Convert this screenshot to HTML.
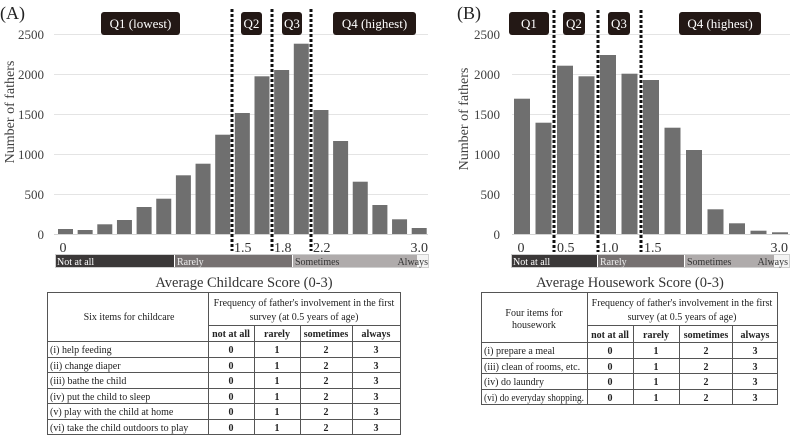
<!DOCTYPE html>
<html><head><meta charset="utf-8"><style>
html,body{margin:0;padding:0;background:#fff;}
svg{display:block;}
text{font-family:"Liberation Serif",serif;}
</style></head><body>
<svg width="792" height="441" viewBox="0 0 792 441" xmlns="http://www.w3.org/2000/svg">
<rect width="792" height="441" fill="#fff"/>

<!-- ================= PANEL A ================= -->
<text x="0" y="19" font-size="18" fill="#222">(A)</text>
<g stroke="#e4e4e4" stroke-width="1">
<line x1="54" y1="34.5" x2="428" y2="34.5"/>
<line x1="54" y1="74.5" x2="428" y2="74.5"/>
<line x1="54" y1="114.5" x2="428" y2="114.5"/>
<line x1="54" y1="154.5" x2="428" y2="154.5"/>
<line x1="54" y1="194.5" x2="428" y2="194.5"/>
</g>
<line x1="54" y1="234.5" x2="428" y2="234.5" stroke="#d4d4d4"/>
<g font-size="13" fill="#404040" text-anchor="end">
<text x="44" y="39">2500</text>
<text x="44" y="79">2000</text>
<text x="44" y="119">1500</text>
<text x="44" y="159">1000</text>
<text x="44" y="199">500</text>
<text x="44" y="239">0</text>
</g>
<text transform="translate(14,112) rotate(-90)" font-size="14" fill="#404040" text-anchor="middle">Number of fathers</text>
<g fill="#6f6f6f">
<rect x="58" y="229" width="15" height="5"/>
<rect x="77.65" y="230" width="15" height="4"/>
<rect x="97.3" y="224.3" width="15" height="9.7"/>
<rect x="116.95" y="220" width="15" height="14"/>
<rect x="136.6" y="207" width="15" height="27"/>
<rect x="156.25" y="198.7" width="15" height="35.3"/>
<rect x="175.9" y="175.3" width="15" height="58.7"/>
<rect x="195.55" y="163.7" width="15" height="70.3"/>
<rect x="215.2" y="134.7" width="15" height="99.3"/>
<rect x="234.85" y="113" width="15" height="121"/>
<rect x="254.5" y="76.3" width="15" height="157.7"/>
<rect x="274.15" y="70" width="15" height="164"/>
<rect x="293.8" y="43.7" width="15" height="190.3"/>
<rect x="313.45" y="110" width="15" height="124"/>
<rect x="333.1" y="141" width="15" height="93"/>
<rect x="352.75" y="181.7" width="15" height="52.3"/>
<rect x="372.4" y="205" width="15" height="29"/>
<rect x="392.05" y="219.3" width="15" height="14.7"/>
<rect x="411.7" y="228" width="15" height="6"/>
</g>
<g stroke="#111" stroke-width="3" stroke-dasharray="3 2" stroke-linecap="butt">
<line x1="232" y1="9" x2="232" y2="251"/>
<line x1="272" y1="9" x2="272" y2="251"/>
<line x1="311" y1="9" x2="311" y2="251"/>
</g>
<g fill="#231815">
<rect x="101" y="12" width="79" height="23" rx="3"/>
<rect x="241" y="12" width="21" height="23" rx="3"/>
<rect x="282" y="12" width="20" height="23" rx="3"/>
<rect x="333" y="12" width="83" height="23" rx="3"/>
</g>
<g font-size="13" fill="#fff" text-anchor="middle">
<text x="140.5" y="28">Q1 (lowest)</text>
<text x="251.5" y="28">Q2</text>
<text x="292" y="28">Q3</text>
<text x="374.5" y="28">Q4 (highest)</text>
</g>
<g font-size="14" fill="#333">
<text x="63" y="252" text-anchor="middle">0</text>
<text x="234" y="252">1.5</text>
<text x="274" y="252">1.8</text>
<text x="313" y="252">2.2</text>
<text x="428" y="252" text-anchor="end">3.0</text>
</g>
<rect x="55" y="254" width="119" height="14" fill="#3b3838"/>
<rect x="175" y="254" width="117" height="14" fill="#767171"/>
<rect x="293" y="254" width="124" height="14" fill="#afabab"/>
<rect x="417" y="254" width="12" height="14" fill="#f4f4f4"/>
<rect x="55.5" y="254.5" width="373" height="13" fill="none" stroke="#cfcfcf" stroke-width="1"/>
<g font-size="10">
<text x="57" y="265" fill="#fff">Not at all</text>
<text x="177" y="265" fill="#eee">Rarely</text>
<text x="295" y="265" fill="#333">Sometimes</text>
<text x="428" y="265" fill="#333" text-anchor="end">Always</text>
</g>
<text x="244" y="287" font-size="14.5" fill="#333" text-anchor="middle">Average  Childcare Score (0-3)</text>

<g stroke="#555" stroke-width="1" fill="none">
<rect x="47.5" y="292.5" width="353" height="142"/>
<line x1="208.5" y1="292.5" x2="208.5" y2="434.5"/>
<line x1="208.5" y1="325.5" x2="400.5" y2="325.5"/>
<line x1="254.5" y1="325.5" x2="254.5" y2="434.5"/>
<line x1="300.5" y1="325.5" x2="300.5" y2="434.5"/>
<line x1="352.5" y1="325.5" x2="352.5" y2="434.5"/>
<line x1="47.5" y1="341.5" x2="400.5" y2="341.5"/>
<line x1="47.5" y1="357.5" x2="400.5" y2="357.5"/>
<line x1="47.5" y1="372.5" x2="400.5" y2="372.5"/>
<line x1="47.5" y1="388.5" x2="400.5" y2="388.5"/>
<line x1="47.5" y1="403.5" x2="400.5" y2="403.5"/>
<line x1="47.5" y1="419.5" x2="400.5" y2="419.5"/>
</g>
<g font-size="10" fill="#222">
<text x="129" y="320" text-anchor="middle">Six items for childcare</text>
<text x="304" y="306" text-anchor="middle">Frequency of father's involvement in the first</text>
<text x="304" y="320" text-anchor="middle">survey (at 0.5 years of age)</text>
<g font-weight="bold" text-anchor="middle">
<text x="231" y="337">not at all</text>
<text x="277" y="337">rarely</text>
<text x="326" y="337">sometimes</text>
<text x="376" y="337">always</text>
</g>
<text x="50" y="353">(i) help feeding</text>
<text x="50" y="369">(ii) change diaper</text>
<text x="50" y="384">(iii) bathe the child</text>
<text x="50" y="400">(iv) put the child to sleep</text>
<text x="50" y="415">(v) play with the child at home</text>
<text x="50" y="431">(vi) take the child outdoors to play</text>
<g font-weight="bold" text-anchor="middle">
<text x="231" y="353">0</text><text x="277" y="353">1</text><text x="326" y="353">2</text><text x="376" y="353">3</text>
<text x="231" y="369">0</text><text x="277" y="369">1</text><text x="326" y="369">2</text><text x="376" y="369">3</text>
<text x="231" y="384">0</text><text x="277" y="384">1</text><text x="326" y="384">2</text><text x="376" y="384">3</text>
<text x="231" y="400">0</text><text x="277" y="400">1</text><text x="326" y="400">2</text><text x="376" y="400">3</text>
<text x="231" y="415">0</text><text x="277" y="415">1</text><text x="326" y="415">2</text><text x="376" y="415">3</text>
<text x="231" y="431">0</text><text x="277" y="431">1</text><text x="326" y="431">2</text><text x="376" y="431">3</text>
</g>
</g>

<!-- ================= PANEL B ================= -->
<text x="457" y="19" font-size="18" fill="#222">(B)</text>
<g stroke="#e4e4e4" stroke-width="1">
<line x1="512" y1="34.5" x2="790" y2="34.5"/>
<line x1="512" y1="74.5" x2="790" y2="74.5"/>
<line x1="512" y1="114.5" x2="790" y2="114.5"/>
<line x1="512" y1="154.5" x2="790" y2="154.5"/>
<line x1="512" y1="194.5" x2="790" y2="194.5"/>
</g>
<line x1="512" y1="234.5" x2="790" y2="234.5" stroke="#d4d4d4"/>
<g font-size="13" fill="#404040" text-anchor="end">
<text x="500" y="39">2500</text>
<text x="500" y="79">2000</text>
<text x="500" y="119">1500</text>
<text x="500" y="159">1000</text>
<text x="500" y="199">500</text>
<text x="500" y="239">0</text>
</g>
<text transform="translate(468,119) rotate(-90)" font-size="14" fill="#404040" text-anchor="middle">Number of fathers</text>
<g fill="#6f6f6f">
<rect x="514" y="98.7" width="16" height="135.3"/>
<rect x="535.5" y="122.7" width="16" height="111.3"/>
<rect x="557" y="65.7" width="16" height="168.3"/>
<rect x="578.5" y="76.3" width="16" height="157.7"/>
<rect x="600" y="55" width="16" height="179"/>
<rect x="621.5" y="73.7" width="16" height="160.3"/>
<rect x="643" y="80" width="16" height="154"/>
<rect x="664.5" y="127.7" width="16" height="106.3"/>
<rect x="686" y="150" width="16" height="84"/>
<rect x="707.5" y="209.3" width="16" height="24.7"/>
<rect x="729" y="223.3" width="16" height="10.7"/>
<rect x="750.5" y="230.7" width="16" height="3.3"/>
<rect x="772" y="232.3" width="16" height="1.7"/>
</g>
<g stroke="#111" stroke-width="3" stroke-dasharray="3 2" stroke-linecap="butt">
<line x1="554" y1="10" x2="554" y2="252"/>
<line x1="598" y1="10" x2="598" y2="252"/>
<line x1="641" y1="10" x2="641" y2="252"/>
</g>
<g fill="#231815">
<rect x="509" y="12" width="40" height="23" rx="3"/>
<rect x="563" y="12" width="22" height="23" rx="3"/>
<rect x="608" y="12" width="22" height="23" rx="3"/>
<rect x="679" y="12" width="82" height="23" rx="3"/>
</g>
<g font-size="13" fill="#fff" text-anchor="middle">
<text x="529" y="28">Q1</text>
<text x="574" y="28">Q2</text>
<text x="619" y="28">Q3</text>
<text x="720" y="28">Q4 (highest)</text>
</g>
<g font-size="14" fill="#333">
<text x="521" y="252" text-anchor="middle">0</text>
<text x="557" y="252">0.5</text>
<text x="601" y="252">1.0</text>
<text x="644" y="252">1.5</text>
<text x="788" y="252" text-anchor="end">3.0</text>
</g>
<rect x="511" y="254" width="86" height="14" fill="#3b3838"/>
<rect x="598" y="254" width="86" height="14" fill="#767171"/>
<rect x="685" y="254" width="89" height="14" fill="#afabab"/>
<rect x="774" y="254" width="16" height="14" fill="#f4f4f4"/>
<rect x="511.5" y="254.5" width="278" height="13" fill="none" stroke="#cfcfcf" stroke-width="1"/>
<g font-size="10">
<text x="513" y="265" fill="#fff">Not at all</text>
<text x="600" y="265" fill="#eee">Rarely</text>
<text x="687" y="265" fill="#333">Sometimes</text>
<text x="788" y="265" fill="#333" text-anchor="end">Always</text>
</g>
<text x="630" y="287" font-size="14.5" fill="#333" text-anchor="middle">Average  Housework Score (0-3)</text>

<g stroke="#555" stroke-width="1" fill="none">
<rect x="481.5" y="292.5" width="296" height="112"/>
<line x1="587.5" y1="292.5" x2="587.5" y2="404.5"/>
<line x1="587.5" y1="325.5" x2="777.5" y2="325.5"/>
<line x1="633.5" y1="325.5" x2="633.5" y2="404.5"/>
<line x1="679.5" y1="325.5" x2="679.5" y2="404.5"/>
<line x1="732.5" y1="325.5" x2="732.5" y2="404.5"/>
<line x1="481.5" y1="342.5" x2="777.5" y2="342.5"/>
<line x1="481.5" y1="358.5" x2="777.5" y2="358.5"/>
<line x1="481.5" y1="373.5" x2="777.5" y2="373.5"/>
<line x1="481.5" y1="389.5" x2="777.5" y2="389.5"/>
</g>
<g font-size="10" fill="#222">
<text x="534" y="316" text-anchor="middle">Four items for</text>
<text x="534" y="328" text-anchor="middle">housework</text>
<text x="682" y="306" text-anchor="middle">Frequency of father's involvement in the first</text>
<text x="682" y="320" text-anchor="middle">survey (at 0.5 years of age)</text>
<g font-weight="bold" text-anchor="middle">
<text x="610" y="338">not at all</text>
<text x="656" y="338">rarely</text>
<text x="706" y="338">sometimes</text>
<text x="755" y="338">always</text>
</g>
<text x="484" y="354">(i) prepare a meal</text>
<text x="484" y="370">(iii) clean of rooms, etc.</text>
<text x="484" y="385">(iv) do laundry</text>
<text x="484" y="401" textLength="100" lengthAdjust="spacingAndGlyphs">(vi) do everyday shopping.</text>
<g font-weight="bold" text-anchor="middle">
<text x="610" y="354">0</text><text x="656" y="354">1</text><text x="706" y="354">2</text><text x="755" y="354">3</text>
<text x="610" y="370">0</text><text x="656" y="370">1</text><text x="706" y="370">2</text><text x="755" y="370">3</text>
<text x="610" y="385">0</text><text x="656" y="385">1</text><text x="706" y="385">2</text><text x="755" y="385">3</text>
<text x="610" y="401">0</text><text x="656" y="401">1</text><text x="706" y="401">2</text><text x="755" y="401">3</text>
</g>
</g>
</svg>
</body></html>
